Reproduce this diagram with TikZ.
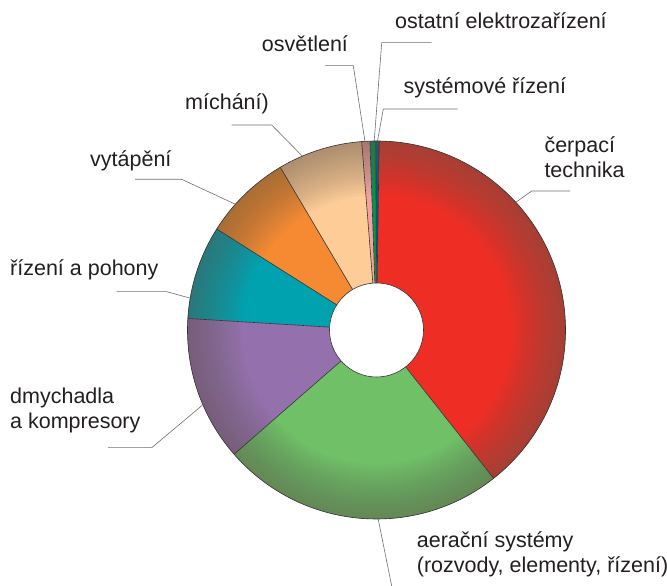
\documentclass[tikz,border=0pt]{standalone}
\usepackage{fontspec}
\setmainfont{Liberation Sans}
\definecolor{cerpaci}{HTML}{EE2E24}
\definecolor{aeracni}{HTML}{6FC067}
\definecolor{dmychadla}{HTML}{9470AD}
\definecolor{pohony}{HTML}{00A2B0}
\definecolor{vytapeni}{HTML}{F58A32}
\definecolor{michani}{HTML}{FDCC97}
\definecolor{osvetleni}{HTML}{F4A1A0}
\definecolor{ostatni}{HTML}{00964E}
\definecolor{systemove}{HTML}{005B8C}
\definecolor{okraj}{HTML}{645A50}
\definecolor{barvaobrys}{HTML}{333333}
\definecolor{barvavodic}{HTML}{6E6E6E}
\definecolor{barvatext}{HTML}{231F20}
\begin{document}
\begin{tikzpicture}[x=1pt, y=1pt,
    vysec/.style={draw=barvaobrys, line width=0.6pt},
    vodic/.style={draw=barvavodic, line width=0.6pt},
    popis/.style={anchor=base west, inner sep=0pt, align=left, text=barvatext,
                  font=\fontsize{21.5}{25}\selectfont}]
    \useasboundingbox (0,0) rectangle (667,586);
    \coordinate (c) at (376.5,256);

    % 1. vysece (od cerpaci techniky proti smeru hodin)
    \fill[cerpaci]   (c) -- ++(-51.7:189) arc[start angle=-51.7, end angle=89.2, radius=189] -- cycle;
    \fill[systemove] (c) -- ++(89.2:189)  arc[start angle=89.2,  end angle=90.2, radius=189] -- cycle;
    \fill[ostatni]   (c) -- ++(90.2:189)  arc[start angle=90.2,  end angle=92,   radius=189] -- cycle;
    \fill[osvetleni] (c) -- ++(92:189)    arc[start angle=92,    end angle=94.5, radius=189] -- cycle;
    \fill[michani]   (c) -- ++(94.5:189)  arc[start angle=94.5,  end angle=120.6, radius=189] -- cycle;
    \fill[vytapeni]  (c) -- ++(120.6:189) arc[start angle=120.6, end angle=147.7, radius=189] -- cycle;
    \fill[pohony]    (c) -- ++(147.7:189) arc[start angle=147.7, end angle=176.5, radius=189] -- cycle;
    \fill[dmychadla] (c) -- ++(176.5:189) arc[start angle=176.5, end angle=221.1, radius=189] -- cycle;
    \fill[aeracni]   (c) -- ++(221.1:189) arc[start angle=221.1, end angle=308.3, radius=189] -- cycle;

    % ztmaveni okraje
    \foreach \r in {135,138,...,186}
        \fill[okraj, fill opacity=0.035, even odd rule] (c) circle (189) (c) circle (\r);

    % obrysy
    \foreach \a in {89.2,90.2,92,94.5,120.6,147.7,176.5,221.1,308.3}
        \draw[vysec] (c) -- ++(\a:189);
    \draw[vysec] (c) circle (189);
    \fill[white] (c) circle (47); \draw[vysec] (c) circle (47);

    % 2. popisy (u viceradkovych je base na poslednim radku)
    \node[popis] (ostatni)   at (395,557.7)  {ostatní elektrozařízení};
    \node[popis] (systemove) at (403.3,492)  {systémové řízení};
    \node[popis] (osvetleni) at (261.7,534.3) {osvětlení};
    \node[popis] (michani)   at (185,476)    {míchání)};
    \node[popis] (vytapeni)  at (90,419.3)   {vytápění};
    \node[popis] (pohony)    at (10,310.3)   {řízení a pohony};
    \node[popis] (dmychadla) at (10,157)     {dmychadla\\a kompresory};
    \node[popis] (cerpaci)   at (544.3,408)  {čerpací\\technika};
    \node[popis] (aeracni)   at (416.7,13)   {aerační systémy\\(rozvody, elementy, řízení)};

    % 3. odkazove cary
    \path (c) ++(90.7:189)  coordinate (ostatni-r);
    \path (c) ++(89.7:189)  coordinate (systemove-r);
    \path (c) ++(93.5:189)  coordinate (osvetleni-r);
    \path (c) ++(113.1:189) coordinate (michani-r);
    \path (c) ++(138.3:189) coordinate (vytapeni-r);
    \path (c) ++(170.3:189) coordinate (pohony-r);
    \path (c) ++(203.3:189) coordinate (dmychadla-r);
    \path (c) ++(42.5:189)  coordinate (cerpaci-r);
    \path (c) ++(270.5:189) coordinate (aeracni-r);

    \coordinate (ostatni-a)   at (431.7,543.3); \coordinate (ostatni-b)   at (381.7,543.3);
    \coordinate (systemove-a) at (457.7,477);   \coordinate (systemove-b) at (383.3,477);
    \coordinate (osvetleni-a) at (325,520.3);   \coordinate (osvetleni-b) at (353.3,520.3);
    \coordinate (michani-a)   at (231.7,461);   \coordinate (michani-b)   at (271.7,461);
    \coordinate (vytapeni-a)  at (135,406.7);   \coordinate (vytapeni-b)  at (181.7,406.7);
    \coordinate (pohony-a)    at (116.7,294.3); \coordinate (pohony-b)    at (166.7,294.3);
    \coordinate (dmychadla-a) at (108,138.3);   \coordinate (dmychadla-b) at (151.7,138.3);
    \coordinate (cerpaci-a)   at (570,395);     \coordinate (cerpaci-b)   at (531.7,395);
    \coordinate (aeracni-a)   at (391.7,0);

    \draw[vodic] (ostatni-a) -- (ostatni-b) -- (ostatni-r);
    \draw[vodic] (systemove-a) -- (systemove-b) -- (systemove-r);
    \draw[vodic] (osvetleni-a) -- (osvetleni-b) -- (osvetleni-r);
    \draw[vodic] (michani-a) -- (michani-b) -- (michani-r);
    \draw[vodic] (vytapeni-a) -- (vytapeni-b) -- (vytapeni-r);
    \draw[vodic] (pohony-a) -- (pohony-b) -- (pohony-r);
    \draw[vodic] (dmychadla-a) -- (dmychadla-b) -- (dmychadla-r);
    \draw[vodic] (cerpaci-a) -- (cerpaci-b) -- (cerpaci-r);
    \draw[vodic] (aeracni-a) -- (aeracni-r);
\end{tikzpicture}
\end{document}
